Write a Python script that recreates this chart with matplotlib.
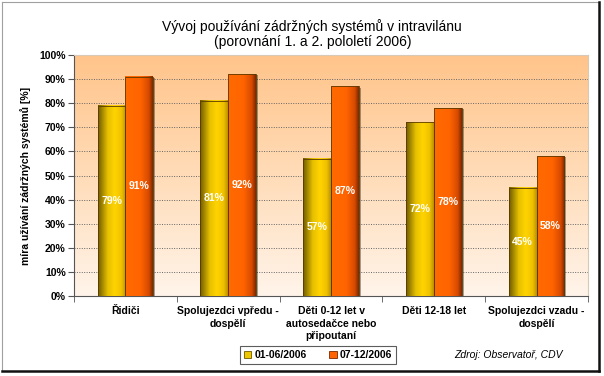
import matplotlib.pyplot as plt
import matplotlib.colors as mcolors
from matplotlib.patches import Patch
from matplotlib.lines import Line2D
import numpy as np

categories = ['Řidiči', 'Spolujezdci vpředu -\ndospělí', 'Děti 0-12 let v\nautosedačce nebo\npřipoutaní',
              'Děti 12-18 let', 'Spolujezdci vzadu -\ndospělí']
first_half = [79, 81, 57, 72, 45]
second_half = [91, 92, 87, 78, 58]
series_names = ['01-06/2006', '07-12/2006']

W, H = 604, 376
fig = plt.figure(figsize=(W / 100, H / 100), dpi=100)
fig.patch.set_facecolor('white')
ax = fig.add_axes([74 / W, 1 - 296 / H, (588 - 74) / W, (296 - 55) / H])

ax.set_xlim(0, 5)
ax.set_ylim(0, 100)

# plot area background, vertical gradient
bg = mcolors.LinearSegmentedColormap.from_list('bg', ['#fff4ea', '#ffdcb8', '#ffc48a'])
grad = np.linspace(0, 1, 256).reshape(-1, 1)
ax.imshow(grad, cmap=bg, extent=[0, 5, 0, 100], origin='lower', aspect='auto', zorder=0)

for y in range(10, 100, 10):
    ax.axhline(y, color='#666666', lw=0.7, ls=(0, (1, 1.5)), zorder=1)

yellow = mcolors.LinearSegmentedColormap.from_list(
    'y', [(0, '#6e5a00'), (0.35, '#e6c000'), (0.6, '#ffd400'), (0.85, '#f0c000'), (1, '#b89000')])
orange = mcolors.LinearSegmentedColormap.from_list(
    'o', [(0, '#ff6a00'), (0.55, '#ff6400'), (0.85, '#d84a00'), (1, '#7a2800')])
hgrad = np.linspace(0, 1, 256).reshape(1, -1)

bw = 0.27
x = np.arange(len(categories)) + 0.5
for vals, cmap, off in [(first_half, yellow, -bw), (second_half, orange, 0)]:
    for xi, v in zip(x, vals):
        x0 = xi + off
        # shadow
        ax.add_patch(plt.Rectangle((x0 + 0.02, 0), bw, v - 0.5, color='#000000', alpha=0.35, lw=0, zorder=2))
        ax.imshow(hgrad, cmap=cmap, extent=[x0, x0 + bw, 0, v], aspect='auto', zorder=3)
        ax.add_patch(plt.Rectangle((x0, 0), bw, v, fill=False, ec='#5a3a00', lw=0.6, zorder=4))
        ax.text(x0 + bw / 2, v / 2, f'{v}%', ha='center', va='center', color='white',
                fontsize=7.5, fontweight='bold', family='Liberation Sans', zorder=5)

ax.set_xlim(0, 5)
ax.set_ylim(0, 100)
ax.set_yticks(range(0, 101, 10))
ax.set_yticklabels([f'{t}%' for t in range(0, 101, 10)], fontsize=7.5, fontweight='bold', family='Liberation Sans')
ax.set_xticks(x)
ax.set_xticklabels(categories, fontsize=7.5, fontweight='bold', family='Liberation Sans', linespacing=1.35, va='top')
ax.set_xticks(range(0, 6), minor=True)
ax.tick_params(axis='x', which='major', length=0, pad=7)
ax.tick_params(axis='x', which='minor', length=4, color='#555555')
ax.tick_params(axis='y', length=4, color='#555555', pad=2)
for s in ['top', 'right']:
    ax.spines[s].set_color('#d8c8b8')
    ax.spines[s].set_linewidth(0.8)
for s in ['left', 'bottom']:
    ax.spines[s].set_color('#555555')
    ax.spines[s].set_linewidth(0.8)

ax.set_ylabel('míra užívání zádržných systémů [%]', fontsize=7.5, fontweight='bold', family='Liberation Sans', labelpad=6)

fig.text(0.517, 1 - 27 / H, 'Vývoj používání zádržných systémů v intravilánu', ha='center', va='center',
         fontsize=10, family='Liberation Sans')
fig.text(0.517, 1 - 42 / H, '(porovnání 1. a 2. pololetí 2006)', ha='center', va='center',
         fontsize=10, family='Liberation Sans')

handles = [Patch(fc='#f0c800', ec='#6e5a00', lw=0.6), Patch(fc='#ff6400', ec='#7a2800', lw=0.6)]
leg = fig.legend(handles, series_names, loc='center', bbox_to_anchor=(318 / W, 1 - 355 / H), ncol=2,
                 prop={'family': 'Liberation Sans', 'weight': 'bold', 'size': 7.5},
                 handlelength=0.7, handleheight=0.7, handletextpad=0.3, columnspacing=2.2,
                 borderpad=0.35, fancybox=False, frameon=True)
leg.get_frame().set_edgecolor('#333333')
leg.get_frame().set_linewidth(0.8)

fig.text(563 / W, 1 - 355 / H, 'Zdroj: Observatoř, CDV', ha='right', va='center', fontsize=7.5,
         style='italic', family='Liberation Sans')

# outer frame: light on left/top, dark shadow on right/bottom
def fl(x0, y0, x1, y1, c, lw):
    fig.add_artist(Line2D([x0 / W, x1 / W], [1 - y0 / H, 1 - y1 / H], color=c, lw=lw, transform=fig.transFigure))

fl(2, 2, 598, 2, '#a0a0a0', 0.8)
fl(2, 2, 2, 370, '#a0a0a0', 0.8)
fl(599, 2, 599, 371, '#111111', 1.8)
fl(2, 371, 599, 371, '#111111', 1.8)

fig.savefig('out.png', dpi=100)
